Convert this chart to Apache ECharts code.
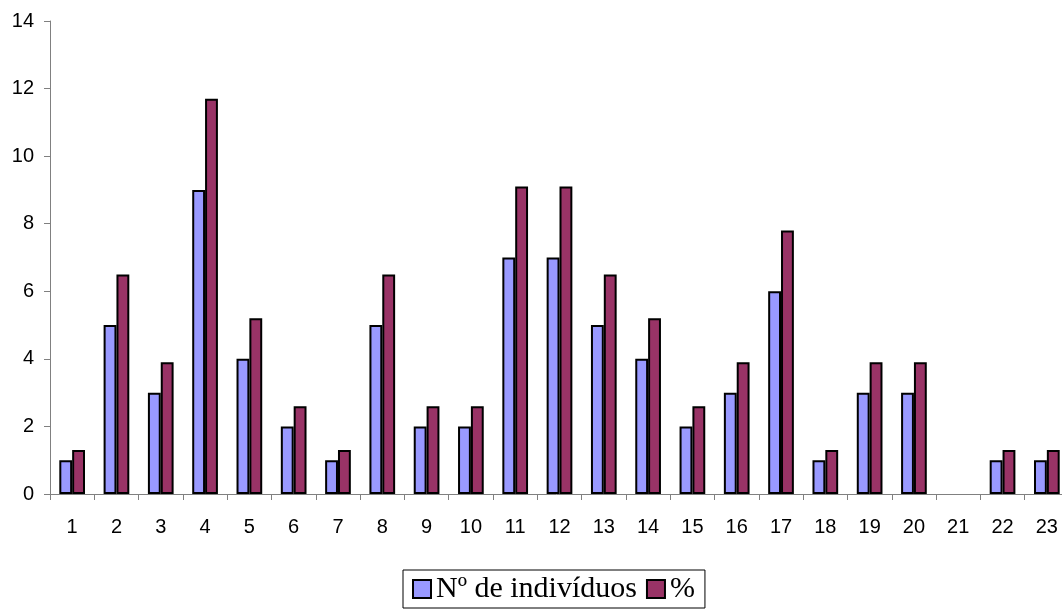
<!DOCTYPE html>
<html>
<head>
<meta charset="utf-8">
<script src="https://cdn.jsdelivr.net/npm/echarts@6/dist/echarts.min.js"></script>
<style>
  html, body { margin: 0; padding: 0; background: #fff; }
  #chart { width: 1062px; height: 610px; }
</style>
</head>
<body>
<div id="chart"></div>
<script>
// Categories 1..23
const categories = ['1','2','3','4','5','6','7','8','9','10','11','12','13','14','15','16','17','18','19','20','21','22','23'];
// Number of individuals per category
const nIndividuos = [1, 5, 3, 9, 4, 2, 1, 5, 2, 2, 7, 7, 5, 4, 2, 3, 6, 1, 3, 3, 0, 1, 1];
// Share of the total, in percent
const percentagem = [1.3, 6.5, 3.9, 11.7, 5.2, 2.6, 1.3, 6.5, 2.6, 2.6, 9.1, 9.1, 6.5, 5.2, 2.6, 3.9, 7.8, 1.3, 3.9, 3.9, 0, 1.3, 1.3];
const seriesNames = ['Nº de indivíduos', '%'];

// Zero-height bars get no outline, so an empty category stays blank
const toBarData = arr => arr.map(v => v === 0 ? { value: v, itemStyle: { borderWidth: 0 } } : v);

const chart = echarts.init(document.getElementById('chart'));
const axisGray = '#808080';
const labelFont = { color: '#000', fontFamily: 'Liberation Sans', fontSize: 20 };
chart.setOption({
  animation: false,
  backgroundColor: '#ffffff',
  // the plot runs slightly past the right edge of the canvas
  grid: { left: 50, right: -7, top: 21, bottom: 116, outerBoundsMode: 'none', containLabel: false },
  legend: {
    bottom: 2,
    left: 403,
    data: seriesNames,
    icon: 'rect',
    itemWidth: 18,
    itemHeight: 18,
    itemGap: 9,
    padding: [4, 10, 4, 9],
    borderColor: '#000',
    borderWidth: 1,
    textStyle: { fontFamily: 'Liberation Serif', fontSize: 30, color: '#000' }
  },
  xAxis: {
    type: 'category',
    data: categories,
    axisLine: { lineStyle: { color: axisGray, width: 1 } },
    axisTick: { show: true, length: 6, lineStyle: { color: axisGray } },
    axisLabel: Object.assign({ margin: 23 }, labelFont)
  },
  yAxis: {
    type: 'value',
    min: 0, max: 14, interval: 2,
    axisLine: { show: true, lineStyle: { color: axisGray, width: 1 } },
    axisTick: { show: true, length: 6, lineStyle: { color: axisGray } },
    splitLine: { show: false },
    axisLabel: Object.assign({ margin: 16 }, labelFont)
  },
  series: [
    {
      name: seriesNames[0],
      type: 'bar',
      data: toBarData(nIndividuos),
      barGap: '0%',
      barCategoryGap: '42%',
      itemStyle: { color: '#9999FF', borderColor: '#000', borderWidth: 2 }
    },
    {
      name: seriesNames[1],
      type: 'bar',
      data: toBarData(percentagem),
      itemStyle: { color: '#993366', borderColor: '#000', borderWidth: 2 }
    }
  ]
});
</script>
</body>
</html>
